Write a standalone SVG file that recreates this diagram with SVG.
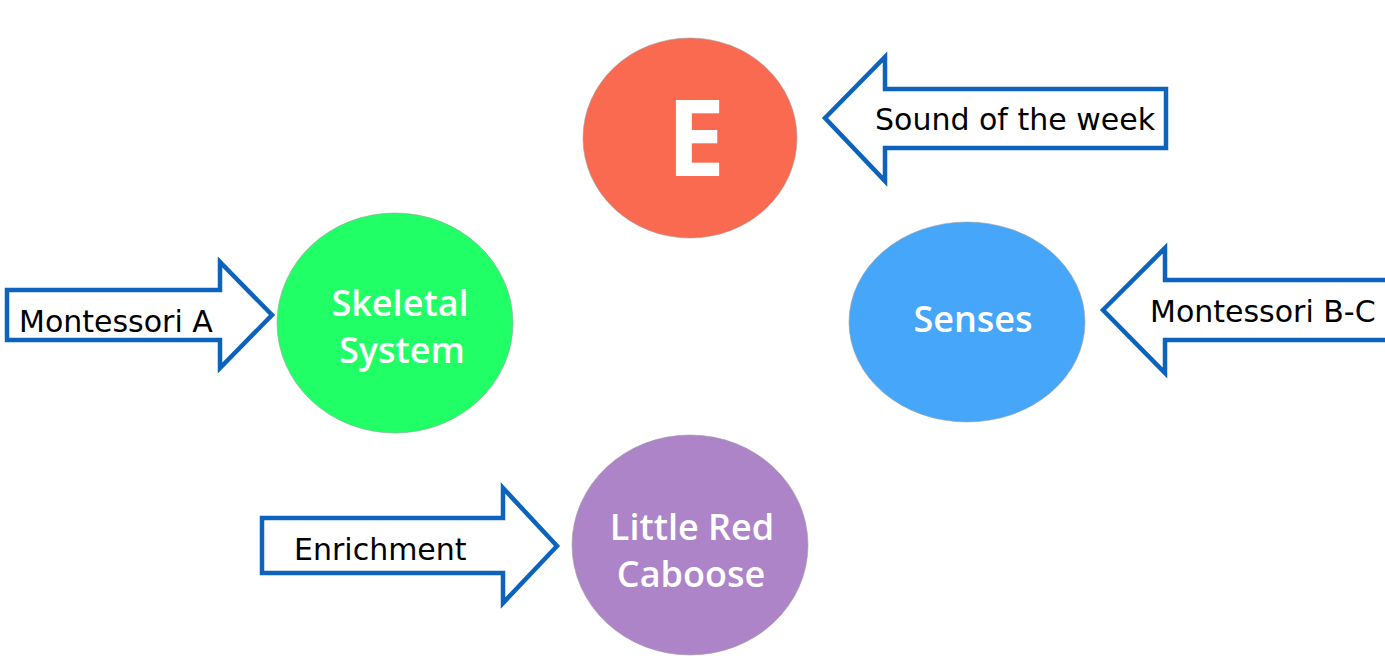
<svg xmlns="http://www.w3.org/2000/svg" width="1385" height="656" viewBox="0 0 1385 656">
<style>
.bubble{stroke:#a0a0a0;stroke-width:1;stroke-opacity:0.6}
.ctext{font-family:"Open Sans","DejaVu Sans",sans-serif;font-weight:600;font-size:36px;fill:#ffffff;text-anchor:middle}
.arrow{fill:#ffffff;stroke:#0b63be;stroke-width:4.5;stroke-linejoin:miter}
.atext{font-family:"DejaVu Sans",sans-serif;font-size:30px;fill:#000000}
</style>
<rect width="1385" height="656" fill="#ffffff"/>
<g id="node-e">
<ellipse class="bubble" cx="690" cy="138" rx="107" ry="100" fill="#f96a50"/>
<text x="696" y="176" style="font-family:'Open Sans','DejaVu Sans',sans-serif;font-weight:700;font-size:105px;fill:#ffffff;text-anchor:middle">E</text>
</g>
<g id="node-skeletal">
<ellipse class="bubble" cx="395" cy="323" rx="118" ry="110" fill="#21ff66"/>
<text class="ctext" x="400" y="316">Skeletal</text>
<text class="ctext" x="402" y="363">System</text>
</g>
<g id="node-senses">
<ellipse class="bubble" cx="967" cy="322" rx="118" ry="100" fill="#46a6fa"/>
<text class="ctext" x="973" y="332">Senses</text>
</g>
<g id="node-caboose">
<ellipse class="bubble" cx="690" cy="545" rx="118" ry="110" fill="#ae84c9"/>
<text class="ctext" x="692" y="540">Little Red</text>
<text class="ctext" x="691" y="587">Caboose</text>
</g>
<g id="connectors">
<g id="arrow-sound">
<polygon class="arrow" points="825,118 885,57 885,89 1166,89 1166,148 885,148 885,181"/>
<text class="atext" x="875" y="130">Sound of the week</text>
</g>
<g id="arrow-montessori-a">
<polygon class="arrow" points="7,290 220,290 220,262 272,315 220,368 220,340 7,340"/>
<text class="atext" x="19" y="332">Montessori A</text>
</g>
<g id="arrow-montessori-bc">
<polygon class="arrow" points="1103,310 1165,248 1165,280 1395,280 1395,340 1165,340 1165,373"/>
<text class="atext" x="1150" y="322">Montessori B-C</text>
</g>
<g id="arrow-enrichment">
<polygon class="arrow" points="262,518 503,518 503,488 557,546 503,603 503,573 262,573"/>
<text class="atext" x="294" y="560">Enrichment</text>
</g>
</g>
</svg>
